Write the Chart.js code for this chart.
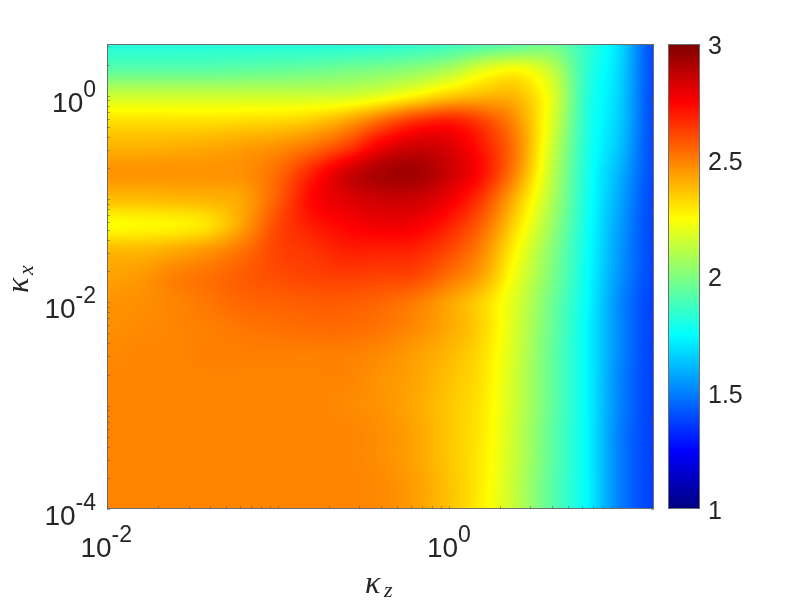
<!DOCTYPE html>
<html>
<head>
<meta charset="utf-8">
<style>
html, body { margin: 0; background: #fff; }
canvas { display: block; }
</style>
<script src="https://cdn.jsdelivr.net/npm/chart.js@4"></script>
</head>
<body>
<canvas id="Chart" width="806" height="604"></canvas>
<script>
// log10 of the sample positions
const logKz = [-2, -1.8, -1.6, -1.4, -1.2, -1, -0.8, -0.6, -0.4, -0.2, 0, 0.2, 0.4, 0.6, 0.8, 1, 1.2];
const logKx = [0.5, 0.25, 0, -0.25, -0.5, -0.75, -1, -1.25, -1.5, -1.75, -2, -2.25, -2.5, -2.75, -3, -3.25, -3.5, -3.75, -4];

// one row per logKx entry, top of the plot first
const row00 = [1.82,1.82,1.82,1.82,1.82,1.82,1.82,1.82,1.83,1.85,1.87,1.90,1.93,1.97,1.85,1.68,1.39];
const row01 = [1.93,1.93,1.93,1.93,1.94,1.95,1.96,1.98,2.00,2.03,2.09,2.20,2.25,2.13,1.85,1.67,1.39];
const row02 = [2.15,2.15,2.15,2.15,2.15,2.15,2.15,2.16,2.20,2.27,2.35,2.39,2.38,2.20,1.84,1.66,1.39];
const row03 = [2.31,2.31,2.31,2.31,2.32,2.33,2.36,2.43,2.55,2.66,2.70,2.62,2.46,2.19,1.83,1.65,1.39];
const row04 = [2.40,2.40,2.41,2.42,2.44,2.47,2.53,2.63,2.78,2.85,2.82,2.70,2.50,2.16,1.82,1.63,1.39];
const row05 = [2.46,2.46,2.46,2.46,2.47,2.54,2.69,2.84,2.92,2.93,2.85,2.72,2.47,2.13,1.81,1.60,1.39];
const row06 = [2.38,2.38,2.39,2.40,2.43,2.57,2.74,2.81,2.85,2.85,2.78,2.63,2.38,2.10,1.80,1.58,1.38];
const row07 = [2.25,2.26,2.27,2.31,2.44,2.61,2.70,2.75,2.78,2.77,2.69,2.55,2.31,2.06,1.79,1.56,1.38];
const row08 = [2.39,2.39,2.42,2.46,2.53,2.62,2.65,2.69,2.69,2.68,2.61,2.48,2.25,2.02,1.78,1.55,1.38];
const row09 = [2.43,2.45,2.50,2.53,2.57,2.60,2.62,2.63,2.62,2.61,2.53,2.42,2.205,2.00,1.77,1.54,1.38];
const row10 = [2.46,2.47,2.49,2.52,2.55,2.56,2.57,2.57,2.55,2.51,2.43,2.33,2.17,1.97,1.76,1.52,1.37];
const row11 = [2.47,2.48,2.49,2.50,2.52,2.53,2.54,2.54,2.52,2.48,2.42,2.33,2.16,1.96,1.75,1.52,1.37];
const row12 = [2.48,2.49,2.49,2.50,2.50,2.50,2.50,2.50,2.48,2.44,2.39,2.31,2.15,1.95,1.75,1.52,1.37];
const row13 = [2.49,2.49,2.49,2.49,2.49,2.49,2.49,2.49,2.46,2.43,2.37,2.30,2.14,1.95,1.75,1.51,1.37];
const row14 = [2.49,2.49,2.49,2.49,2.49,2.49,2.49,2.48,2.46,2.42,2.36,2.29,2.14,1.95,1.75,1.51,1.37];
const row15 = [2.49,2.49,2.49,2.49,2.49,2.49,2.49,2.49,2.47,2.43,2.36,2.285,2.13,1.94,1.75,1.50,1.37];
const row16 = [2.49,2.49,2.49,2.49,2.49,2.49,2.49,2.49,2.47,2.43,2.36,2.28,2.13,1.94,1.75,1.50,1.37];
const row17 = [2.49,2.49,2.49,2.49,2.49,2.49,2.49,2.49,2.48,2.44,2.37,2.275,2.12,1.93,1.75,1.50,1.37];
const row18 = [2.49,2.49,2.49,2.49,2.49,2.49,2.49,2.49,2.48,2.44,2.37,2.27,2.12,1.93,1.75,1.50,1.37];
const rows = [row00,row01,row02,row03,row04,row05,row06,row07,row08,row09,row10,row11,row12,row13,row14,row15,row16,row17,row18];

const colorMin = 1;
const colorMax = 3;
const colorTicks = [1, 1.5, 2, 2.5, 3];
const xLabelExps = [-2, 0];
const yLabelExps = [-4, -2, 0];

const textColor = '#262626';
const boxColor = '#6e6e6e';

function jet(v) {
    const t = Math.min(1, Math.max(0, (v - colorMin) / (colorMax - colorMin)));
    const c = d => Math.round(255 * Math.min(1, Math.max(0, 1.5 - Math.abs(4 * t - d))));
    return [c(3), c(2), c(1)];
}

function catmull(a, b, c, d, t) {
    return b + 0.5 * t * (c - a + t * (2 * a - 5 * b + 4 * c - d + t * (3 * (b - c) + d - a)));
}

// shading between the samples, like shading interp
function sample(lx, ly) {
    const fx = (lx - logKz[0]) / (logKz[logKz.length - 1] - logKz[0]) * (logKz.length - 1);
    const fy = (ly - logKx[0]) / (logKx[logKx.length - 1] - logKx[0]) * (logKx.length - 1);
    const ix = Math.min(logKz.length - 2, Math.max(0, Math.floor(fx)));
    const iy = Math.min(logKx.length - 2, Math.max(0, Math.floor(fy)));
    const col = [];
    for (let j = iy - 1; j <= iy + 2; j++) {
        const r = rows[Math.min(rows.length - 1, Math.max(0, j))];
        const at = i => r[Math.min(r.length - 1, Math.max(0, i))];
        col.push(catmull(at(ix - 1), at(ix), at(ix + 1), at(ix + 2), fx - ix));
    }
    return catmull(col[0], col[1], col[2], col[3], fy - iy);
}

const heatmap = {
    id: 'heatmap',
    beforeDatasetsDraw(chart) {
        const ctx = chart.ctx;
        const a = chart.chartArea;
        const xs = chart.scales.x, ys = chart.scales.y;
        const w = Math.round(a.right - a.left), h = Math.round(a.bottom - a.top);
        const img = ctx.createImageData(w, h);
        for (let py = 0; py < h; py++) {
            const ly = Math.log10(ys.getValueForPixel(a.top + py + 0.5));
            for (let px = 0; px < w; px++) {
                const lx = Math.log10(xs.getValueForPixel(a.left + px + 0.5));
                const c = jet(sample(lx, ly));
                const k = (py * w + px) * 4;
                img.data[k] = c[0]; img.data[k + 1] = c[1]; img.data[k + 2] = c[2]; img.data[k + 3] = 255;
            }
        }
        ctx.putImageData(img, Math.round(a.left), Math.round(a.top));
    },
    afterDatasetsDraw(chart) {
        const ctx = chart.ctx;
        const a = chart.chartArea;
        const xs = chart.scales.x, ys = chart.scales.y, cb = chart.scales.cb;

        // colorbar
        const barLeft = a.right + 14, barRight = a.right + 46;
        for (let py = Math.round(cb.top); py < Math.round(cb.bottom); py++) {
            const c = jet(cb.getValueForPixel(py + 0.5));
            ctx.fillStyle = `rgb(${c[0]},${c[1]},${c[2]})`;
            ctx.fillRect(barLeft, py, barRight - barLeft, 1);
        }
        ctx.strokeStyle = boxColor;
        ctx.lineWidth = 1;
        ctx.strokeRect(barLeft + 0.5, cb.top + 0.5, barRight - barLeft - 1, cb.bottom - cb.top - 1);

        // box and minor ticks
        ctx.strokeRect(a.left + 0.5, a.top + 0.5, a.right - a.left - 1, a.bottom - a.top - 1);
        ctx.strokeStyle = 'rgba(90,90,90,0.55)';
        ctx.beginPath();
        for (let e = -2; e <= 1; e++) {
            for (let m = 1; m < 10; m++) {
                const v = m * Math.pow(10, e);
                if (v > xs.max) continue;
                const p = Math.round(xs.getPixelForValue(v)) + 0.5;
                ctx.moveTo(p, a.bottom); ctx.lineTo(p, a.bottom - 3);
            }
        }
        for (let e = -4; e <= 0; e++) {
            for (let m = 1; m < 10; m++) {
                const v = m * Math.pow(10, e);
                if (v > ys.max) continue;
                const p = Math.round(ys.getPixelForValue(v)) + 0.5;
                ctx.moveTo(a.left, p); ctx.lineTo(a.left + 3, p);
                ctx.moveTo(a.right, p); ctx.lineTo(a.right - 3, p);
            }
        }
        ctx.stroke();

        // tick labels with raised exponents
        ctx.fillStyle = textColor;
        ctx.textBaseline = 'alphabetic';
        ctx.textAlign = 'left';
        const power = (e, right, base) => {
            const s = String(e);
            ctx.font = '23px "Liberation Sans"';
            const sw = ctx.measureText(s).width;
            ctx.fillText(s, right - sw, base - 15);
            ctx.font = '28px "Liberation Sans"';
            const bw = ctx.measureText('10').width;
            ctx.fillText('10', right - sw - bw, base);
        };
        xLabelExps.forEach(e => power(e, xs.getPixelForValue(Math.pow(10, e))
            + (e === 0 ? 22 : 25), a.bottom + 48));
        yLabelExps.forEach(e => power(e, a.left - 11, ys.getPixelForValue(Math.pow(10, e)) + 16));

        // axis names
        ctx.font = 'italic 32px "Liberation Serif"';
        ctx.fillText('κ', 365, 593);
        ctx.font = 'italic 22px "Liberation Serif"';
        ctx.fillText('z', 384, 597);
        ctx.save();
        ctx.translate(28, 293);
        ctx.rotate(-Math.PI / 2);
        ctx.font = 'italic 32px "Liberation Serif"';
        ctx.fillText('κ', 0, 0);
        ctx.font = 'italic 22px "Liberation Serif"';
        ctx.fillText('x', 18, 5);
        ctx.restore();
    }
};

const points = [];
logKx.forEach((ly, j) => logKz.forEach((lx, i) => {
    points.push({ x: Math.pow(10, lx), y: Math.pow(10, ly), v: rows[j][i] });
}));

new Chart(document.getElementById('Chart').getContext('2d'), {
    type: 'scatter',
    data: { datasets: [{ label: 'value', data: points, pointRadius: 0, pointHoverRadius: 0 }] },
    plugins: [heatmap],
    options: {
        responsive: false,
        animation: false,
        layout: { padding: { top: 44, left: 0, right: 0, bottom: 0 } },
        plugins: { legend: { display: false }, tooltip: { enabled: false } },
        scales: {
            x: {
                type: 'logarithmic',
                min: 0.01,
                max: Math.pow(10, 1.2),
                grid: { display: false },
                border: { display: false },
                ticks: { display: false },
                afterFit(s) { s.height = 95; }
            },
            y: {
                type: 'logarithmic',
                min: 1e-4,
                max: Math.pow(10, 0.5),
                grid: { display: false },
                border: { display: false },
                ticks: { display: false },
                afterFit(s) { s.width = 107; }
            },
            cb: {
                type: 'linear',
                position: 'right',
                min: colorMin,
                max: colorMax,
                grid: { display: false, drawTicks: false },
                border: { display: false },
                afterBuildTicks(s) { s.ticks = colorTicks.map(v => ({ value: v })); },
                ticks: {
                    padding: 54,
                    labelOffset: 3,
                    color: textColor,
                    font: { family: '"Liberation Sans"', size: 25 },
                    callback: v => String(v)
                },
                afterFit(s) { s.width = 152; s.paddingTop = 0; s.paddingBottom = 0; }
            }
        }
    }
});
</script>
</body>
</html>
